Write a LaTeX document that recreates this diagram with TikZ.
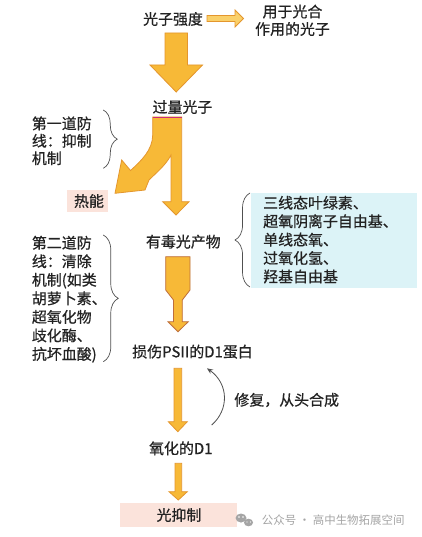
\documentclass[tikz,border=0pt]{standalone}
\usepackage{fontspec}
\setmainfont{Noto Sans CJK SC}[FakeBold=0.7]
\newfontfamily\wmfont{Noto Sans CJK SC}
\usetikzlibrary{decorations.pathreplacing,arrows.meta}
\definecolor{arrfill}{RGB}{247,185,55}
\definecolor{arrline}{RGB}{228,150,45}
\definecolor{bottleline}{RGB}{190,110,60}
\definecolor{lightarr}{RGB}{250,208,105}
\definecolor{bluebox}{RGB}{220,243,247}
\definecolor{pinkbox}{RGB}{251,227,219}
\definecolor{txt}{RGB}{35,35,35}
\definecolor{bracec}{RGB}{80,80,80}
\definecolor{wm}{RGB}{165,165,165}
\definecolor{magline}{RGB}{205,45,120}
\begin{document}
\begin{tikzpicture}[x=1bp,y=-1bp,
  lbl/.style={inner sep=0pt,text=txt,font=\fontsize{15}{18.5}\selectfont},
  bigarrow/.style={fill=arrfill,draw=arrline,line width=0.8pt,line join=miter},
  curly/.style={draw=bracec,line width=0.7pt,decorate,decoration={brace,amplitude=#1}},
  curly/.default=14,
  wmtext/.style={inner sep=0pt,text=wm,font=\wmfont\fontsize{11.5}{13}\selectfont}]
\fill[white] (0,0) rectangle (421,537);
\useasboundingbox (0,0) rectangle (421,537);

% top row
\node[lbl] (gqd) at (173,19) {光子强度};
\node[lbl,align=center,font=\fontsize{15}{17.5}\selectfont] (yyg) at (292.5,20.3) {用于光合\\作用的光子};
\path[fill=lightarr,draw=arrline,line width=0.8pt]
  (207,15.5) -- (235,15.5) -- (235,10) -- (243.5,18.5) -- (235,27) -- (235,21.5) -- (207,21.5) -- cycle;

% big arrow 1
\path[bigarrow] (165,33) -- (187.5,33) -- (187.5,65) -- (202.5,65) -- (176.2,92) -- (150,65) -- (165,65) -- cycle;

\node[lbl] (glgz) at (182.5,107) {过量光子};

% split arrow
\path[bigarrow]
  (152.7,117) -- (181.7,117) -- (181.7,201.7) -- (189,201.7) -- (176,215) -- (162.7,201.7)
  -- (171,201.7) -- (171,155) .. controls (166,165) and (156,173) .. (149,180)
  -- (145,190) -- (115,193.3) -- (121.7,160) -- (130.5,170.5)
  .. controls (141,161) and (152.7,150) .. (152.7,135) -- cycle;
\draw[magline,line width=1pt] (152.7,117) -- (181.7,117);

% heat
\fill[pinkbox] (66.7,190) rectangle (108,211.7);
\node[lbl] (rn) at (89,201) {热能};

% first defence
\node[lbl,align=left,anchor=west,font=\fontsize{15}{17.5}\selectfont] (fd1) at (31.7,140.8) {第一道防\\线：抑制\\机制};
\draw[curly=14] (103.3,110) -- (103.3,168.3);

% toxic products
\fill[bluebox] (251,193) rectangle (417,288);
\node[lbl,align=left,anchor=west] (tox) at (263,239.7) {三线态叶绿素、\\超氧阴离子自由基、\\单线态氧、\\过氧化氢、\\羟基自由基};
\draw[curly=15] (250,287) -- (250,193);
\node[lbl] (ydg) at (183.3,241.7) {有毒光产物};

% bottle arrow
\path[fill=arrfill,draw=bottleline,line width=0.8pt]
  (165.7,256.7) -- (190,256.7) -- (190,290) -- (182.3,300) -- (182.3,321.7) -- (188.3,321.7)
  -- (178,331.7) -- (168,321.7) -- (173.5,321.7) -- (173.5,300) -- (165.7,290) -- cycle;

% second defence
\node[lbl,align=left,anchor=west,font=\fontsize{15}{18.6}\selectfont] (fd2) at (31.7,299.2) {第二道防\\线：清除\\机制(如类\\胡萝卜素、\\超氧化物\\歧化酶、\\抗坏血酸)};
\draw[curly=15] (103.3,235) -- (103.3,361.7);

\node[lbl] (d1) at (192.5,351.7) {损伤PS\kern-3bp Ⅱ\kern-3bp 的D1蛋白};

% arrow 3
\path[bigarrow] (174,368.3) -- (181.7,368.3) -- (181.7,421.7) -- (187.3,421.7) -- (177.8,431.7)
  -- (168.3,421.7) -- (174,421.7) -- cycle;

% repair
\coordinate (rs) at (211.7,425);
\coordinate (re) at (207,368.3);
\draw[bracec,line width=0.8pt,-{Stealth[length=6pt,width=5pt]}] (rs) .. controls (229,410) and (229,384) .. (re);
\node[lbl] (xf) at (286.7,400) {修复，从头合成};

\node[lbl] (yhd) at (180.8,448.3) {氧化的D1};

% arrow 4
\path[bigarrow] (175,463.3) -- (181.7,463.3) -- (181.7,491.7) -- (187.3,491.7) -- (178.3,500)
  -- (169,491.7) -- (175,491.7) -- cycle;

% photoinhibition
\fill[pinkbox] (120,503.3) rectangle (236.7,526.7);
\node[lbl] (gyz) at (179,515) {光抑制};

% watermark
\fill[wm] (241,518) ellipse (5.5 and 4.5);
\fill[wm] (248.5,522.5) ellipse (4.5 and 3.8);
\fill[white] (239,517) circle (0.8) (243,517) circle (0.8) (247,522) circle (0.6) (250.5,522) circle (0.6);
\node[wmtext,anchor=west] (wmt) at (261.7,520) {公众号 · 高中生物拓展空间};
\end{tikzpicture}
\end{document}
